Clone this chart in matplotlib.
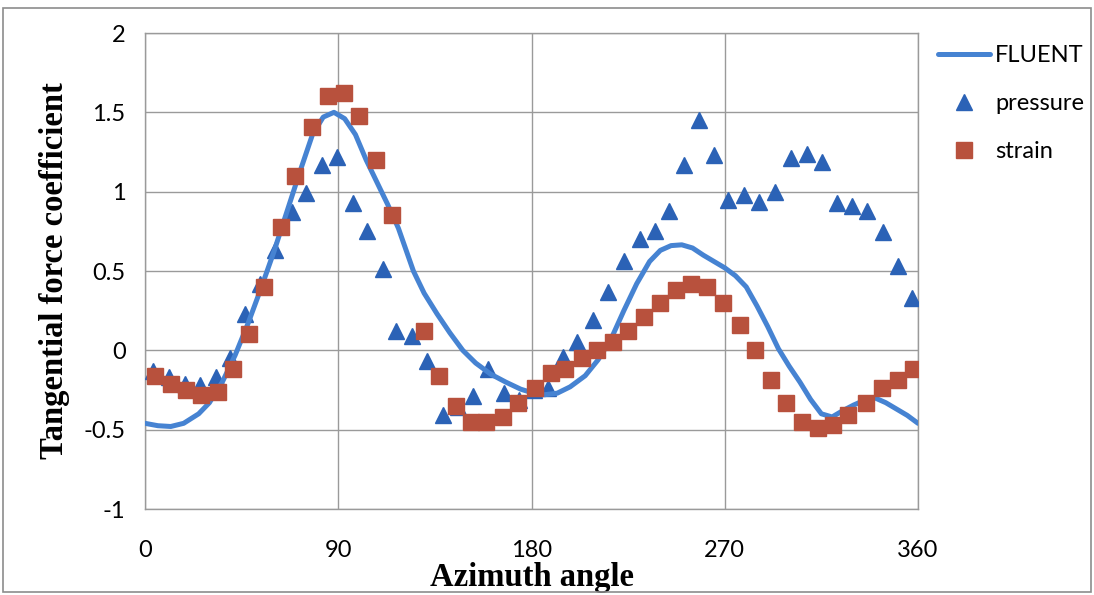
import matplotlib
matplotlib.use("Agg")
import matplotlib.pyplot as plt
from matplotlib.patches import Rectangle

# ---- data ----
fluent_angle = [0, 6, 12, 18, 25, 30, 36, 42, 48, 54, 60, 66, 72, 78, 83, 88, 93, 98,
                103, 108, 113, 118, 125, 130, 136, 142, 148, 154, 161, 168, 175, 181,
                186, 192, 198, 205, 211, 217, 223, 229, 235, 240, 245, 250, 255, 260,
                265, 270, 275, 280, 285, 290, 295, 300, 305, 310, 315, 320, 325, 330,
                335, 340, 345, 350, 355, 360]
fluent_value = [-0.46, -0.475, -0.48, -0.46, -0.40, -0.33, -0.20, -0.03, 0.17, 0.39,
                0.62, 0.87, 1.12, 1.36, 1.47, 1.50, 1.46, 1.36, 1.20, 1.06, 0.92, 0.77,
                0.50, 0.36, 0.23, 0.11, 0.0, -0.08, -0.15, -0.20, -0.245, -0.27, -0.28,
                -0.27, -0.23, -0.16, -0.06, 0.07, 0.25, 0.42, 0.56, 0.63, 0.66, 0.665,
                0.645, 0.60, 0.56, 0.52, 0.47, 0.40, 0.28, 0.15, 0.01, -0.10, -0.20,
                -0.31, -0.40, -0.42, -0.38, -0.345, -0.315, -0.30, -0.33, -0.37, -0.41,
                -0.46]

pressure_angle = [3.9, 11.2, 18.6, 25.6, 33.0, 39.6, 46.6, 53.6, 60.5, 68.3, 74.8, 82.3,
                  89.3, 96.7, 103.3, 110.7, 116.9, 124.2, 131.2, 138.7, 146.0, 152.9,
                  159.9, 167.2, 174.2, 181.2, 187.8, 194.5, 201.4, 208.5, 215.5, 223.1,
                  230.6, 237.3, 244.2, 251.2, 258.2, 265.2, 271.7, 279.1, 286.1, 293.4,
                  300.7, 308.2, 315.2, 322.1, 329.2, 336.1, 343.9, 350.6, 357.1]
pressure_value = [-0.13, -0.17, -0.21, -0.22, -0.17, -0.05, 0.23, 0.42, 0.63, 0.87, 0.99,
                  1.17, 1.22, 0.93, 0.75, 0.51, 0.12, 0.09, -0.07, -0.41, -0.36, -0.29,
                  -0.12, -0.27, -0.31, -0.25, -0.24, -0.04, 0.05, 0.19, 0.37, 0.56, 0.70,
                  0.75, 0.88, 1.17, 1.45, 1.23, 0.95, 0.98, 0.935, 1.00, 1.21, 1.24, 1.19,
                  0.93, 0.91, 0.88, 0.745, 0.53, 0.33]

strain_angle = [4.7, 12.0, 19.0, 26.0, 34.0, 41.0, 48.6, 55.5, 63.3, 70.0, 77.6, 85.3,
                92.5, 99.7, 107.6, 115.0, 130.0, 137.0, 144.7, 151.8, 158.7, 166.6, 173.6,
                181.6, 189.0, 195.6, 203.4, 210.7, 218.0, 225.0, 232.6, 239.9, 247.3,
                254.3, 261.6, 269.4, 277.0, 284.0, 291.4, 298.5, 305.8, 313.3, 320.6,
                327.6, 335.7, 343.4, 350.6, 357.9]
strain_value = [-0.16, -0.21, -0.25, -0.28, -0.26, -0.12, 0.10, 0.40, 0.78, 1.10, 1.41,
                1.60, 1.62, 1.48, 1.20, 0.85, 0.12, -0.16, -0.35, -0.45, -0.45, -0.42,
                -0.33, -0.24, -0.14, -0.12, -0.05, 0.0, 0.05, 0.12, 0.21, 0.30, 0.38, 0.42,
                0.40, 0.30, 0.16, 0.0, -0.19, -0.33, -0.45, -0.49, -0.47, -0.41, -0.33,
                -0.24, -0.19, -0.12]

x_ticks = [0, 90, 180, 270, 360]
y_ticks = [-1, -0.5, 0, 0.5, 1, 1.5, 2]
y_tick_labels = ["-1", "-0.5", "0", "0.5", "1", "1.5", "2"]

# ---- figure ----
W, H = 1094, 595
fig = plt.figure(figsize=(W / 100, H / 100), dpi=100)
fig.patch.set_facecolor("white")

ax = fig.add_axes([145 / W, 1 - 509 / H, (918 - 145) / W, (509 - 33) / H])

line_color = "#4683d2"
tri_color = "#2b62b6"
sq_color = "#b8513d"
tick_font = "Lato"

ax.plot(pressure_angle, pressure_value, linestyle="none", marker="^", markersize=11,
        color=tri_color, label="pressure", zorder=3)
ax.plot(fluent_angle, fluent_value, color=line_color, linewidth=3.6, label="FLUENT",
        zorder=4, solid_capstyle="round")
ax.plot(strain_angle, strain_value, linestyle="none", marker="s", markersize=11,
        color=sq_color, label="strain", zorder=5)

ax.set_xlim(0, 360)
ax.set_ylim(-1, 2)
ax.set_xticks(x_ticks)
ax.set_yticks(y_ticks)
ax.set_yticklabels(y_tick_labels)
ax.grid(True, color="#9a9a9a", linewidth=1.0)
ax.set_axisbelow(True)
for s in ax.spines.values():
    s.set_color("#9a9a9a")
    s.set_linewidth(1.0)
ax.tick_params(axis="both", length=0, labelsize=17, colors="black")
ax.tick_params(axis="x", pad=22)
ax.tick_params(axis="y", pad=14)
for lab in ax.get_xticklabels() + ax.get_yticklabels():
    lab.set_fontfamily(tick_font)

ax.set_xlabel("Azimuth angle", fontsize=23.5, fontweight="bold",
              fontfamily="Liberation Serif", labelpad=1)
ax.set_ylabel("Tangential force coefficient", fontsize=23.5, fontweight="bold",
              fontfamily="Liberation Serif", labelpad=10)

handles, labels = ax.get_legend_handles_labels()
order = [1, 0, 2]
leg = ax.legend([handles[i] for i in order], [labels[i] for i in order],
                loc="upper left", bbox_to_anchor=(1.005, 1.01), frameon=False,
                prop={"family": tick_font, "size": 17}, handlelength=2.2,
                handletextpad=0.2, labelspacing=1.15, borderaxespad=0.3)

# outer chart frame
fig.patches.append(Rectangle((3 / W, 3 / H), (1091 - 3) / W, (587 - 3) / H,
                             transform=fig.transFigure, fill=False,
                             edgecolor="#8c8c8c", linewidth=1.2))

fig.savefig("out.png", dpi=100, facecolor="white")
